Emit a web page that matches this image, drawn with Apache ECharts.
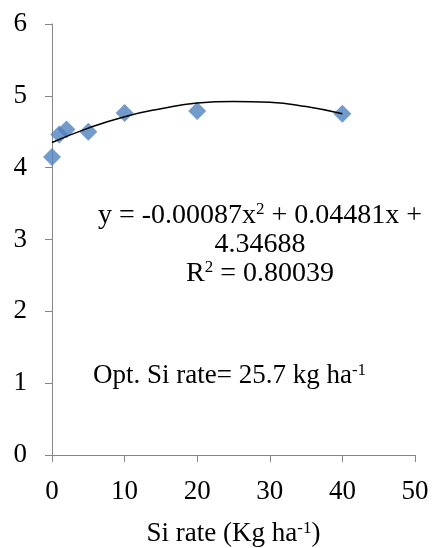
<!DOCTYPE html>
<html>
<head>
<meta charset="utf-8">
<script src="https://cdn.jsdelivr.net/npm/echarts@6/dist/echarts.min.js"></script>
<style>
  html, body { margin: 0; padding: 0; background: #fff; }
  #main { width: 434px; height: 548px; }
</style>
</head>
<body>
<div id="main"></div>
<script>
// observed values
var siRate = [0, 1, 2, 5, 10, 20, 40];
var yieldVals = [4.15, 4.46, 4.53, 4.50, 4.76, 4.79, 4.75];

// polynomial trendline
var trendX = [0, 5, 10, 15, 20, 25, 30, 35, 40];
var trendY = [4.35, 4.55, 4.71, 4.82, 4.90, 4.92, 4.91, 4.85, 4.75];

var xTicks = [0, 10, 20, 30, 40, 50];
var yTicks = [0, 1, 2, 3, 4, 5, 6];

var font = '"Liberation Serif", "Times New Roman", serif';
var supStyle = { fontFamily: font, fontSize: 17, color: '#000', verticalAlign: 'top', padding: [0, 0, 10, 0] };

var myChart = echarts.init(document.getElementById('main'));

var option = {
  animation: false,
  grid: { left: 52, right: 19, top: 24, bottom: 93, containLabel: false, outerBoundsMode: 'none' },
  xAxis: {
    type: 'value',
    min: xTicks[0],
    max: xTicks[xTicks.length - 1],
    interval: 10,
    name: 'Si rate (Kg ha{sup|-1})',
    nameLocation: 'middle',
    nameGap: 65,
    nameTextStyle: {
      fontFamily: font, fontSize: 27, color: '#000',
      rich: { sup: supStyle }
    },
    splitLine: { show: false },
    axisLine: { lineStyle: { color: '#868686', width: 1 } },
    axisTick: { show: true, length: 7, lineStyle: { color: '#868686' } },
    axisLabel: { fontFamily: font, fontSize: 27, color: '#000', margin: 23 }
  },
  yAxis: {
    type: 'value',
    min: yTicks[0],
    max: yTicks[yTicks.length - 1],
    interval: 1,
    splitLine: { show: false },
    axisLine: { show: true, lineStyle: { color: '#868686', width: 1 } },
    axisTick: { show: true, length: 7, lineStyle: { color: '#868686' } },
    axisLabel: { fontFamily: font, fontSize: 27, color: '#000', margin: 25 }
  },
  series: [
    {
      name: 'trend',
      type: 'line',
      data: trendX.map(function (x, i) { return [x, trendY[i]]; }),
      smooth: true,
      showSymbol: false,
      lineStyle: { color: '#000', width: 1.5 },
      z: 3
    },
    {
      name: 'yield',
      type: 'scatter',
      data: siRate.map(function (x, i) { return [x, yieldVals[i]]; }),
      symbol: 'diamond',
      symbolSize: [18, 18],
      itemStyle: { color: '#4f81bd' },
      z: 2
    }
  ],
  graphic: [
    {
      type: 'text',
      x: 260, y: 201,
      style: {
        text: 'y = -0.00087x{s|2} + 0.04481x +\n4.34688\nR{s|2} = 0.80039',
        font: '28px ' + font,
        fill: '#000',
        align: 'center',
        verticalAlign: 'top',
        lineHeight: 29,
        rich: { s: supStyle }
      }
    },
    {
      type: 'text',
      x: 93, y: 376,
      style: {
        text: 'Opt. Si rate= 25.7 kg ha{s|-1}',
        font: '27px ' + font,
        fill: '#000',
        verticalAlign: 'middle',
        rich: { s: supStyle }
      }
    }
  ]
};

myChart.setOption(option);
</script>
</body>
</html>
